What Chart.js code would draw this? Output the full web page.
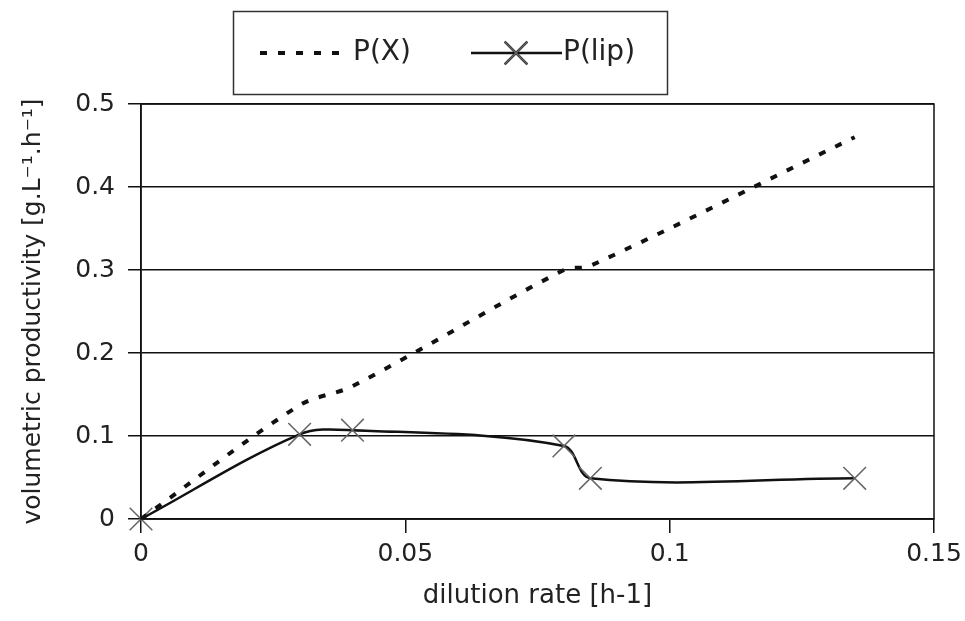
<!DOCTYPE html>
<html>
<head>
<meta charset="utf-8">
<script src="https://cdn.jsdelivr.net/npm/chart.js@4"></script>
<style>
  html, body { margin: 0; padding: 0; background: #fff; }
  #wrap { width: 965px; height: 621px; }
</style>
</head>
<body>
<div id="wrap"><canvas id="chart" width="965" height="621"></canvas></div>
<script>
// dilution rate [h-1]
const dilution = [0, 0.03, 0.04, 0.08, 0.085, 0.135];
const pX = [0, 0.137, 0.16, 0.30, 0.305, 0.46];
const pLip = [0, 0.102, 0.107, 0.088, 0.049, 0.049];
const seriesNames = ['P(X)', 'P(lip)'];
const xTicks = [0, 0.05, 0.1, 0.15];
const yTicks = [0, 0.1, 0.2, 0.3, 0.4, 0.5];

const FONT = '"DejaVu Sans", sans-serif';
const INK = '#222';

function pts(xs, ys) {
  return xs.map((x, i) => ({ x: x, y: ys[i] }));
}

// box round the plot + boxed legend on top
const frame = {
  id: 'frame',
  afterDraw(chart) {
    const ctx = chart.ctx;
    const a = chart.chartArea;
    ctx.save();
    ctx.strokeStyle = '#111';
    ctx.lineWidth = 1.5;
    ctx.strokeRect(a.left, a.top, a.right - a.left, a.bottom - a.top);

    // legend
    ctx.strokeStyle = '#333';
    ctx.lineWidth = 1.5;
    ctx.strokeRect(233.5, 11.5, 434, 83);
    const ly = 53;
    ctx.font = '28px ' + FONT;
    ctx.fillStyle = INK;
    ctx.textBaseline = 'middle';

    const d0 = chart.data.datasets[0];
    ctx.strokeStyle = d0.borderColor;
    ctx.lineWidth = d0.borderWidth;
    ctx.setLineDash(d0.borderDash);
    ctx.beginPath();
    ctx.moveTo(260, ly);
    ctx.lineTo(340, ly);
    ctx.stroke();
    ctx.setLineDash([]);
    ctx.fillText(d0.label, 353, ly);

    const d1 = chart.data.datasets[1];
    ctx.strokeStyle = d1.borderColor;
    ctx.lineWidth = d1.borderWidth;
    ctx.beginPath();
    ctx.moveTo(471, ly);
    ctx.lineTo(562, ly);
    ctx.stroke();
    Chart.helpers.drawPoint(ctx, {
      pointStyle: 'crossRot', radius: d1.pointRadius,
      borderWidth: d1.pointBorderWidth, rotation: 0
    }, 516, ly);
    ctx.strokeStyle = d1.pointBorderColor;
    ctx.lineWidth = d1.pointBorderWidth;
    ctx.stroke();
    ctx.fillText(d1.label, 563, ly);
    ctx.restore();
  }
};

new Chart(document.getElementById('chart'), {
  type: 'line',
  data: {
    datasets: [
      {
        label: seriesNames[0],
        data: pts(dilution, pX),
        borderColor: '#111',
        borderWidth: 4,
        borderDash: [7, 11],
        pointRadius: 0,
        tension: 0.33,
        fill: false
      },
      {
        label: seriesNames[1],
        data: pts(dilution, pLip),
        borderColor: '#111',
        borderWidth: 2.5,
        pointStyle: 'crossRot',
        pointRadius: 16,
        pointBorderColor: '#666',
        pointBorderWidth: 1.5,
        pointBackgroundColor: 'transparent',
        tension: 0.33,
        fill: false,
        clip: false
      }
    ]
  },
  options: {
    responsive: false,
    animation: false,
    devicePixelRatio: 1,
    layout: { padding: { top: 104, right: 31, bottom: 0, left: 0 } },
    plugins: {
      legend: { display: false },
      tooltip: { enabled: false }
    },
    scales: {
      x: {
        type: 'linear',
        min: 0,
        max: 0.15,
        afterBuildTicks(s) { s.ticks = xTicks.map(v => ({ value: v })); },
        afterFit(s) { s.height = 102; s.paddingLeft = 0; s.paddingRight = 0; },
        grid: { drawOnChartArea: false, drawTicks: true, tickLength: 14, color: '#111', lineWidth: 1.5 },
        border: { color: '#111', width: 1.5 },
        ticks: {
          color: INK,
          padding: 6,
          font: { family: FONT, size: 25 },
          maxRotation: 0,
          callback: v => String(+v.toFixed(3))
        },
        title: {
          display: true,
          text: 'dilution rate [h-1]',
          color: INK,
          font: { family: FONT, size: 26 },
          padding: { top: 0, bottom: 9 }
        }
      },
      y: {
        type: 'linear',
        min: 0,
        max: 0.5,
        afterBuildTicks(s) { s.ticks = yTicks.map(v => ({ value: v })); },
        afterFit(s) { s.width = 141; s.paddingTop = 0; s.paddingBottom = 0; },
        grid: { drawOnChartArea: true, drawTicks: true, tickLength: 13, color: '#111', lineWidth: 1.5 },
        border: { color: '#111', width: 1.5 },
        ticks: {
          color: INK,
          padding: 13,
          font: { family: FONT, size: 25 },
          callback: v => String(+v.toFixed(2))
        },
        title: {
          display: true,
          text: 'volumetric productivity [g.L⁻¹.h⁻¹]',
          color: INK,
          font: { family: FONT, size: 25 },
          padding: { top: 18, bottom: 0 }
        }
      }
    }
  },
  plugins: [frame]
});
</script>
</body>
</html>
